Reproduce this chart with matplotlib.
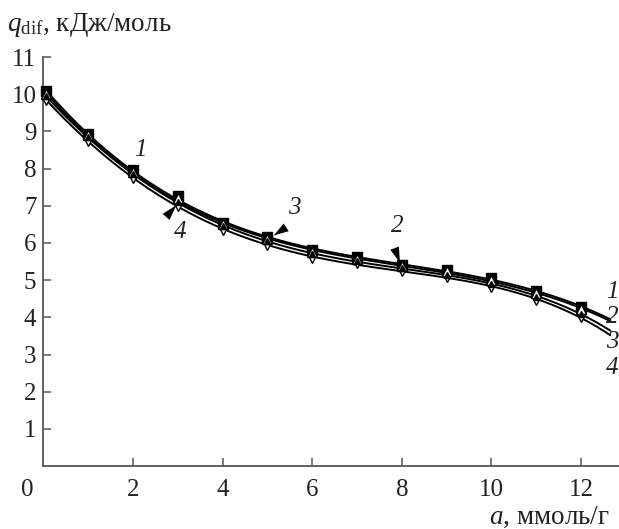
import numpy as np
import matplotlib.pyplot as plt

plt.rcParams['font.family'] = ['Liberation Serif', 'DejaVu Serif']
plt.rcParams['mathtext.fontset'] = 'custom'
plt.rcParams['mathtext.rm'] = 'Liberation Serif'
plt.rcParams['mathtext.it'] = 'Liberation Serif:italic'

# данные
a = np.array([0.05, 1, 2, 3, 4, 5, 6, 7, 8, 9, 10, 11, 12])
q1 = np.array([10.1, 8.92, 7.95, 7.25, 6.55, 6.15, 5.8, 5.62, 5.42, 5.28, 5.05, 4.7, 4.28])
q2 = np.array([10.0, 8.9, 7.9, 7.2, 6.5, 6.1, 5.75, 5.58, 5.38, 5.24, 5.0, 4.66, 4.22])
q3 = np.array([9.95, 8.85, 7.85, 7.1, 6.45, 6.05, 5.7, 5.52, 5.32, 5.15, 4.9, 4.55, 4.1])
q4 = np.array([9.85, 8.75, 7.75, 7.0, 6.35, 5.95, 5.6, 5.45, 5.25, 5.08, 4.82, 4.47, 4.0])
labels = ['1', '2', '3', '4']

fig = plt.figure(figsize=(6.19, 5.29), dpi=100)
ax = fig.add_axes([0.0701, 0.119, 0.93, (466 - 57) / 529])

# сглаживающие кривые (полином по точкам)
a_fit = np.linspace(0.05, 12.65, 300)
for q, deg in ((q1, 3), (q2, 3), (q3, 4), (q4, 4)):
    c = np.polyfit(a, q, deg)
    ax.plot(a_fit, np.polyval(c, a_fit), color='black', lw=1.4, zorder=2, clip_on=False)

ax.plot(a, q1, 's', ms=7.5, mfc='black', mec='black', zorder=3, clip_on=False)
ax.plot(a, q2, '^', ms=7.5, mfc='white', mec='black', mew=1.0, zorder=4, clip_on=False)
ax.plot(a, q3, '^', ms=5, mfc='black', mec='black', zorder=5, clip_on=False)
ax.plot(a, q4, 'v', ms=7.5, mfc='white', mec='black', mew=1.0, zorder=3.5, clip_on=False)

ax.set_xlim(0, 12.85)
ax.set_ylim(0, 11)
ax.set_xticks([2, 4, 6, 8, 10, 12])
ax.set_yticks(range(1, 12))
for s in ('top', 'right'):
    ax.spines[s].set_visible(False)
for s in ('left', 'bottom'):
    ax.spines[s].set_color('#555555')
    ax.spines[s].set_linewidth(1.3)
ax.tick_params(direction='in', length=6, width=1.1, color='#555555',
               labelsize=18, labelcolor='#222222', pad=5)
ax.tick_params(axis='x', pad=9)

ax.text(-0.37, -0.65, '0', fontsize=18, color='#222222', ha='center', va='center')

# подписи кривых
it = dict(fontsize=18, style='italic', color='#222222')
ax.text(2.16, 8.5, '1', ha='center', va='center', **it)
ax.text(3.05, 6.29, '4', ha='center', va='center', **it)
ax.text(5.6, 6.93, '3', ha='center', va='center', **it)
ax.text(7.89, 6.45, '2', ha='center', va='center', **it)
for y, lab in zip([4.68, 4.0, 3.33, 2.63], labels):
    ax.text(12.55, y, lab, ha='left', va='center', clip_on=False, **it)

wedge = dict(arrowstyle='wedge,tail_width=0.3,shrink_factor=0.5', color='black',
             lw=0, mutation_scale=22, shrinkA=0, shrinkB=0)
ax.annotate('', xy=(2.97, 7.02), xytext=(2.74, 6.7), arrowprops=wedge)
ax.annotate('', xy=(5.14, 6.2), xytext=(5.42, 6.42), arrowprops=wedge)
ax.annotate('', xy=(7.96, 5.47), xytext=(7.84, 5.86), arrowprops=wedge)

fig.text(7 / 619, 1 - 25 / 529, r'$q_{\mathrm{dif}}$, кДж/моль', fontsize=19.5,
         color='#222222', ha='left', va='center')
fig.text(610 / 619, 1 - 517 / 529, r'$a$, ммоль/г', fontsize=19.5,
         color='#222222', ha='right', va='center')

fig.savefig('out.png', dpi=100)
